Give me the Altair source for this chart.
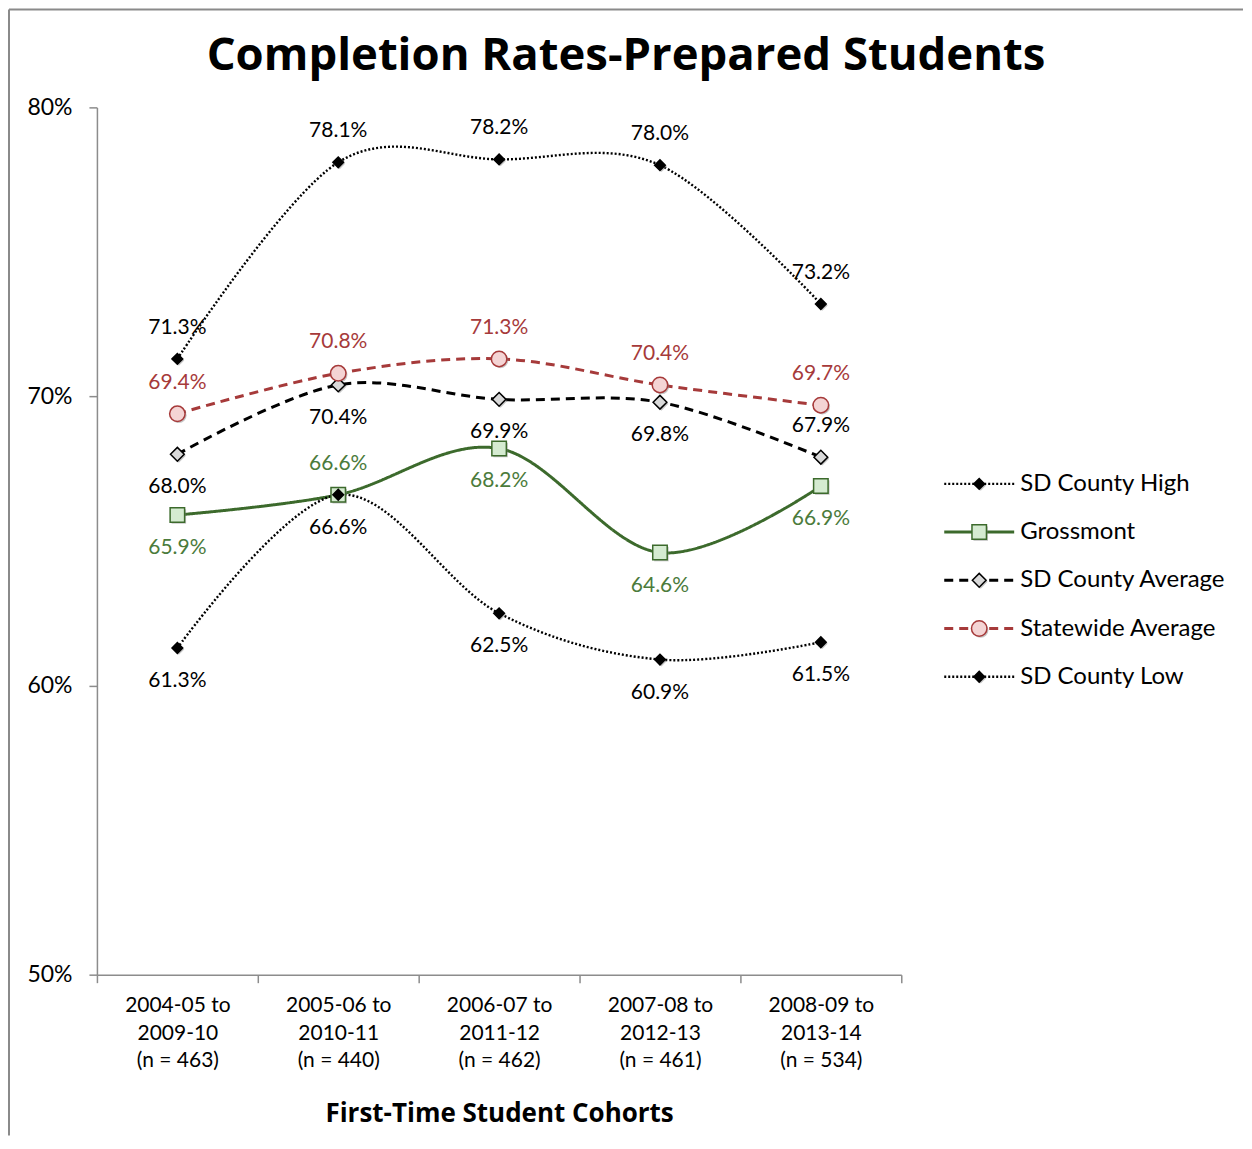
import json
import altair as alt
import pandas as pd

# ---------------- data ----------------
cohort_start = ["2004-05 to", "2005-06 to", "2006-07 to", "2007-08 to", "2008-09 to"]
cohort_end = ["2009-10", "2010-11", "2011-12", "2012-13", "2013-14"]
cohort_n = [463, 440, 462, 461, 534]

series_names = ["SD County High", "Grossmont", "SD County Average",
                "Statewide Average", "SD County Low"]
sd_high = [71.3, 78.1, 78.2, 78.0, 73.2]
grossmont = [65.9, 66.6, 68.2, 64.6, 66.9]
sd_avg = [68.0, 70.4, 69.9, 69.8, 67.9]
statewide = [69.4, 70.8, 71.3, 70.4, 69.7]
sd_low = [61.3, 66.6, 62.5, 60.9, 61.5]

# where each value label sits relative to its marker
pos_high = ["above", "above", "above", "above", "above"]
pos_gross = ["below", "above", "below", "below", "below"]
pos_avg = ["below", "below", "below", "below", "above"]
pos_state = ["above", "above", "above", "above", "above"]
pos_low = ["below", "below", "below", "below", "below"]

all_vals = [sd_high, grossmont, sd_avg, statewide, sd_low]
all_pos = [pos_high, pos_gross, pos_avg, pos_state, pos_low]

rows = []
for k, (name, vals, poss) in enumerate(zip(series_names, all_vals, all_pos)):
    for i, (v, p) in enumerate(zip(vals, poss)):
        rows.append({"series": name, "k": k, "i": i, "value": v, "pos": p,
                     "label": f"{v:.1f}%"})
df = pd.DataFrame(rows)
legend_df = pd.DataFrame({"series": series_names, "li": list(range(len(series_names)))})
one = pd.DataFrame({"a": [0]})

# ---------------- styles ----------------
FONT = "Lato"
TFONT = "Open Sans"
AXIS_GRAY = "#8c8c8c"
dom = series_names
stroke_scale = alt.Scale(domain=dom, range=["#000000", "#3c6a2c", "#000000", "#a63a3a", "#000000"])
dash_scale = alt.Scale(domain=dom, range=[[2, 2], [1, 0], [9, 6], [9, 6], [2, 2]])
width_scale = alt.Scale(type="ordinal", domain=dom, range=[2.4, 3, 3, 3, 2.4])
shape_scale = alt.Scale(domain=dom, range=["diamond", "square", "diamond", "circle", "diamond"])
fill_scale = alt.Scale(domain=dom, range=["#000000", "#d5ebd1", "#d9d9d9", "#f4d4d4", "#000000"])
size_scale = alt.Scale(type="ordinal", domain=dom, range=[115, 210, 190, 240, 115])
text_scale = alt.Scale(domain=dom, range=["#000000", "#4b7b3b", "#000000", "#a63a3a", "#000000"])

x_labels = [[s, e, f"(n = {n})"] for s, e, n in zip(cohort_start, cohort_end, cohort_n)]
label_expr = f"datum.value % 1 === 0 ? {json.dumps(x_labels)}[datum.value] : ''"

x_axis = alt.Axis(
    values=[-0.5, 0, 0.5, 1, 1.5, 2, 2.5, 3, 3.5, 4, 4.5],
    labelExpr=label_expr,
    tickOpacity={"condition": {"test": "datum.value % 1 !== 0", "value": 1}, "value": 0},
    tickSize=8, labelPadding=12, labelAngle=0, labelOverlap=False,
    labelFlush=False, labelBound=False, labelFontSize=21, labelLineHeight=27.5,
    labelFont=FONT, labelColor="black", grid=False,
    title="First-Time Student Cohorts", titleFont=TFONT, titleFontSize=26,
    titleFontWeight="bold", titleColor="black", titlePadding=30,
)
y_axis = alt.Axis(
    values=[50, 60, 70, 80], labelExpr="datum.value + '%'", tickSize=8,
    labelPadding=17, labelFontSize=23, labelFont=FONT, labelColor="black",
    grid=False, title=None,
)

X = alt.X("i:Q", scale=alt.Scale(domain=[-0.5, 4.5], nice=False, zero=False), axis=x_axis)
Y = alt.Y("value:Q", scale=alt.Scale(domain=[50, 80], nice=False, zero=False), axis=y_axis)

# frame around the chart (decoration)
frame_left = alt.Chart(one).mark_rule(color="#8a8a8a", strokeWidth=2).encode(
    x=alt.value(-88), y=alt.value(-98), y2=alt.value(1029))
frame_top = alt.Chart(one).mark_rule(color="#8a8a8a", strokeWidth=2).encode(
    x=alt.value(-88), x2=alt.value(1147), y=alt.value(-98))

lines = alt.Chart(df).mark_line(interpolate="cardinal").encode(
    x=X, y=Y,
    stroke=alt.Stroke("series:N", scale=stroke_scale, legend=None),
    strokeDash=alt.StrokeDash("series:N", scale=dash_scale, legend=None),
    strokeWidth=alt.StrokeWidth("series:N", scale=width_scale, legend=None),
    detail="series:N",
)
shadows = alt.Chart(df).mark_point(filled=True, color="#808080", opacity=0.45,
                                   xOffset=1.5, yOffset=1.5).encode(
    x=X, y=Y,
    shape=alt.Shape("series:N", scale=shape_scale, legend=None),
    size=alt.Size("series:N", scale=size_scale, legend=None),
)
markers = alt.Chart(df).mark_point(filled=True, opacity=1, strokeWidth=1.5).encode(
    x=X, y=Y,
    shape=alt.Shape("series:N", scale=shape_scale, legend=None),
    size=alt.Size("series:N", scale=size_scale, legend=None),
    fill=alt.Fill("series:N", scale=fill_scale, legend=None),
    stroke=alt.Stroke("series:N", scale=stroke_scale, legend=None),
)
text_above = alt.Chart(df).transform_filter("datum.pos === 'above'").mark_text(
    dy=-31, fontSize=21, font=FONT, baseline="middle").encode(
    x=X, y=Y, text="label:N",
    color=alt.Color("series:N", scale=text_scale, legend=None))
text_below = alt.Chart(df).transform_filter("datum.pos === 'below'").mark_text(
    dy=33, fontSize=21, font=FONT, baseline="middle").encode(
    x=X, y=Y, text="label:N",
    color=alt.Color("series:N", scale=text_scale, legend=None))

main = alt.layer(frame_left, frame_top, lines, shadows, markers,
                 text_above, text_below).properties(width=805, height=868)

# ---------------- legend panel ----------------
LX = alt.Scale(domain=[0, 1], nice=False, zero=False)
LY = alt.Y("li:Q", scale=alt.Scale(domain=[-7.81, 10.18], reverse=True, nice=False, zero=False),
           axis=None)
leg_lines = alt.Chart(legend_df).mark_rule().encode(
    x=alt.XDatum(0, scale=LX, axis=None), x2=alt.X2Datum(1), y=LY,
    stroke=alt.Stroke("series:N", scale=stroke_scale, legend=None),
    strokeDash=alt.StrokeDash("series:N", scale=dash_scale, legend=None),
    strokeWidth=alt.StrokeWidth("series:N", scale=width_scale, legend=None),
)
leg_shadow = alt.Chart(legend_df).mark_point(filled=True, color="#808080", opacity=0.45,
                                             xOffset=1.5, yOffset=1.5).encode(
    x=alt.XDatum(0.5, scale=LX, axis=None), y=LY,
    shape=alt.Shape("series:N", scale=shape_scale, legend=None),
    size=alt.Size("series:N", scale=size_scale, legend=None),
)
leg_markers = alt.Chart(legend_df).mark_point(filled=True, opacity=1, strokeWidth=1.5).encode(
    x=alt.XDatum(0.5, scale=LX, axis=None), y=LY,
    shape=alt.Shape("series:N", scale=shape_scale, legend=None),
    size=alt.Size("series:N", scale=size_scale, legend=None),
    fill=alt.Fill("series:N", scale=fill_scale, legend=None),
    stroke=alt.Stroke("series:N", scale=stroke_scale, legend=None),
)
leg_text = alt.Chart(legend_df).mark_text(align="left", dx=6, fontSize=24, font=FONT,
                                          baseline="middle", color="black").encode(
    x=alt.XDatum(1, scale=LX, axis=None), y=LY, text="series:N")
legend = alt.layer(leg_lines, leg_shadow, leg_markers, leg_text).properties(width=70, height=868)

chart = alt.hconcat(main, legend, spacing=43, bounds="flush").properties(
    title=alt.TitleParams(text="Completion Rates-Prepared Students", font=TFONT,
                          fontSize=45.5, fontWeight="bold", color="black",
                          anchor="middle", offset=-71),
    padding={"left": 0, "top": 0, "right": 0, "bottom": 0},
).configure_view(strokeWidth=0).configure_axis(
    domainColor=AXIS_GRAY, tickColor=AXIS_GRAY, domainWidth=1.5, tickWidth=1.5,
)

chart.save("out.html", embed_options={"renderer": "svg", "actions": False})
